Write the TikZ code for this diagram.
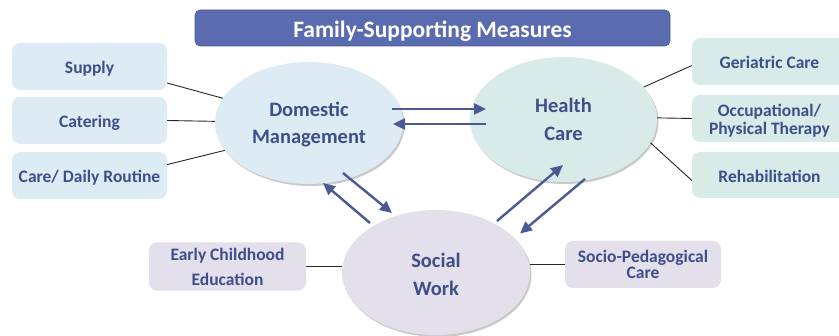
\documentclass[tikz,border=0pt]{standalone}
\usepackage{fontspec}
\setmainfont{Carlito}
\usetikzlibrary{arrows.meta,shadows,calc,backgrounds,shapes.geometric}
\definecolor{titlefill}{HTML}{5B6BB0}
\definecolor{titleedge}{HTML}{48589A}
\definecolor{txt}{HTML}{3E4E8B}
\definecolor{bluefill}{HTML}{DDECF4}
\definecolor{greenfill}{HTML}{D9EBE9}
\definecolor{lilacfill}{HTML}{E4E0EB}
\definecolor{arrowc}{HTML}{4B5A94}
\newcommand\mylines[3]{\rule{0pt}{#1pt}#3\rule[-#2pt]{0pt}{0pt}}
\begin{document}
\begin{tikzpicture}[x=1pt,y=-1pt,
  boxtext/.style={font=\bfseries\fontsize{17.5}{18}\selectfont, text=txt, align=center},
  sidebox/.style={boxtext, rounded corners=8pt, minimum width=155pt, minimum height=47pt, inner sep=0pt},
  bubble/.style={ellipse, inner sep=0pt, align=center, text=txt,
    font=\bfseries\fontsize{20.5}{27.5}\selectfont,
    drop shadow={shadow xshift=1.5pt, shadow yshift=-2pt, opacity=0.35, fill=black!60}},
  link/.style={draw=black!85, line width=0.9pt},
  arr/.style={draw=arrowc, line width=2.4pt, -{Triangle[length=12pt,width=11pt]}},
]
\useasboundingbox (0,0) rectangle (839,336);
\fill[white] (0,0) rectangle (839,336);

% title
\node[rounded corners=5pt, fill=titlefill, draw=titleedge, line width=0.6pt,
  minimum width=475pt, minimum height=36pt, inner sep=0pt,
  text=white, font=\bfseries\fontsize{23.5}{26}\selectfont] (title) at (432.5,28) {\mylines{24.2}{6}{Family-Supporting Measures}};

% ellipses
\node[bubble, fill=bluefill, minimum width=188pt, minimum height=122pt] (dm) at (309,123) {\mylines{19.8}{6}{Domestic\\Management}};
\node[bubble, fill=greenfill, minimum width=187pt, minimum height=125pt] (hc) at (563.5,119.5) {\mylines{20.2}{6}{Health\\Care}};
\node[bubble, fill=lilacfill, minimum width=188pt, minimum height=125pt] (sw) at (436,272.5) {\mylines{23.6}{6}{Social\\Work}};

% side boxes
\node[sidebox, fill=bluefill] (supply) at (89.5,66.5) {\mylines{19.2}{5}{Supply}};
\node[sidebox, fill=bluefill] (catering) at (89.5,120.5) {\mylines{19.2}{5}{Catering}};
\node[sidebox, fill=bluefill] (care) at (89.5,175.5) {\mylines{19.2}{5}{Care/ Daily Routine}};
\node[sidebox, fill=greenfill] (ger) at (769.5,61.5) {\mylines{19.2}{5}{Geriatric Care}};
\node[sidebox, fill=greenfill] (occ) at (769.5,118.5) {\mylines{19.2}{5}{Occupational/\\Physical Therapy}};
\node[sidebox, fill=greenfill, minimum height=46pt] (rehab) at (769.5,175) {\mylines{19.2}{5}{Rehabilitation}};
\node[sidebox, fill=lilacfill, minimum width=157pt, font=\bfseries\fontsize{17.5}{25}\selectfont] (ecb) at (227.5,266.5) {\mylines{18.2}{5}{Early Childhood\\Education}};
\node[sidebox, fill=lilacfill, minimum width=156pt, font=\bfseries\fontsize{17.5}{16}\selectfont] (spc) at (643,264.5) {\mylines{17.2}{5}{Socio-Pedagogical\\Care}};

% thin connectors
\draw[link] (supply.-12) -- (dm.164);
\draw[link] (catering.east) -- (dm.179);
\draw[link] (care.8) -- (dm.198);
\draw[link] (ger.183) -- (hc.22);
\draw[link] (occ.west) -- (hc.1);
\draw[link] (rehab.184) -- (hc.-15);
\draw[link] (ecb.east) -- (ecb.east -| sw.west);
\draw[link] (spc.west) -- (spc.west -| sw.east);

% arrows
\draw[arr] ($(dm.center)+(83,-14)$) -- ($(hc.center)+(-77.5,-10.5)$);
\draw[arr] ($(hc.center)+(-77.5,4.5)$) -- ($(dm.center)+(84,1)$);
\draw[arr] ($(dm.center)+(34,50)$) -- ($(sw.center)+(-44,-59.5)$);
\draw[arr] ($(sw.center)+(-66,-49.5)$) -- ($(dm.center)+(14,60)$);
\draw[arr] ($(sw.center)+(61,-51.5)$) -- ($(hc.center)+(-0.5,45.5)$);
\draw[arr] ($(hc.center)+(21.5,59.5)$) -- ($(sw.center)+(84,-39)$);
\end{tikzpicture}
\end{document}
